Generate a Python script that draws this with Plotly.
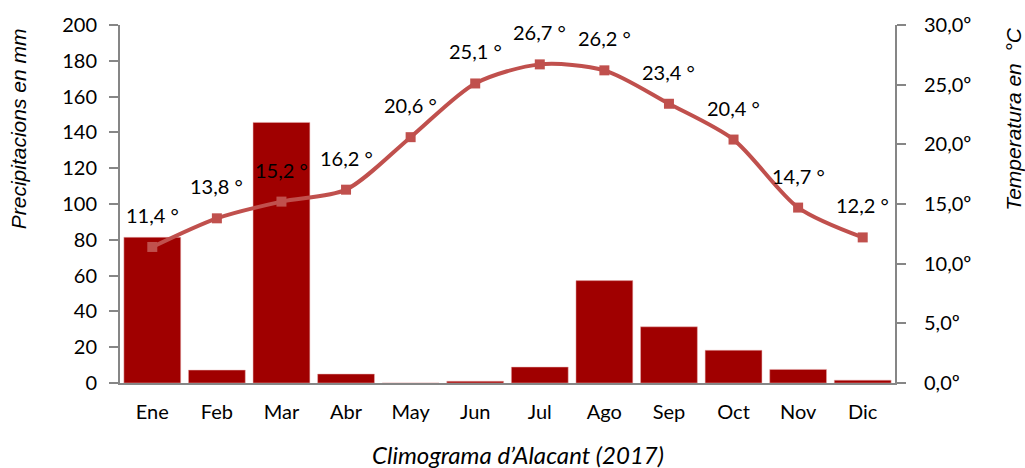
import plotly.graph_objects as go

months = ["Ene", "Feb", "Mar", "Abr", "May", "Jun", "Jul", "Ago", "Sep", "Oct", "Nov", "Dic"]
precip = [81.4, 7.2, 145.6, 5.0, 0.0, 1.0, 8.9, 57.2, 31.4, 18.3, 7.6, 1.6]
temp = [11.4, 13.8, 15.2, 16.2, 20.6, 25.1, 26.7, 26.2, 23.4, 20.4, 14.7, 12.2]
left_ticks = [0, 20, 40, 60, 80, 100, 120, 140, 160, 180, 200]
right_ticks = [0, 5, 10, 15, 20, 25, 30]
right_labels = ["0,0º", "5,0º", "10,0º", "15,0º", "20,0º", "25,0º", "30,0º"]
temp_labels = [f"{t:.1f}".replace(".", ",") + " °" for t in temp]

FONT = "Lato, Open Sans, sans-serif"
TFONT = "Liberation Sans, Arial, sans-serif"
AX = "#868686"

fig = go.Figure()
fig.add_trace(go.Bar(x=months, y=precip, marker=dict(color="#A00000", line=dict(color="#E8B0B0", width=0.5)),
                     yaxis="y", name="Precipitacions"))
fig.add_trace(go.Scatter(x=months, y=temp, yaxis="y2", mode="lines+markers",
                         line=dict(color="#C0504D", width=4, shape="spline", smoothing=0.8),
                         marker=dict(symbol="square", size=10, color="#C0504D"),
                         name="Temperatura"))

annotations = [
    dict(x=m, y=t, xref="x", yref="y2", text=lab, showarrow=False, yshift=32,
         font=dict(size=20, color="#000000"), xanchor="center", yanchor="middle")
    for m, t, lab in zip(months, temp, temp_labels)
]
annotations += [
    dict(text="<i>Precipitacions en mm</i>", xref="paper", yref="paper", x=-0.131, y=0.71,
         textangle=-90, showarrow=False, font=dict(size=21, family=TFONT), xanchor="center", yanchor="middle"),
    dict(text="<i>Temperatura en\u00a0 °C</i>", xref="paper", yref="paper", x=1.153, y=0.737,
         textangle=-90, showarrow=False, font=dict(size=21, family=TFONT), xanchor="center", yanchor="middle"),
    dict(text="<i>Climograma d’Alacant (2017)</i>", xref="paper", yref="paper", x=0.513, y=-0.199,
         showarrow=False, font=dict(size=24), xanchor="center", yanchor="middle"),
]

fig.update_layout(
    width=1025, height=468,
    margin=dict(l=120, r=130, t=22, b=85),
    paper_bgcolor="white", plot_bgcolor="white",
    showlegend=False, bargap=0.12,
    font=dict(family=FONT, size=20, color="#000000"),
    xaxis=dict(range=[-0.5, 11.5], showline=True, linecolor=AX, linewidth=2, ticks="", showgrid=False,
               tickfont=dict(size=20), ticklabelstandoff=10),
    yaxis=dict(range=[0, 200], tickvals=left_ticks, showline=True, linecolor=AX, linewidth=2,
               ticks="outside", ticklen=9, tickcolor=AX, tickwidth=2, showgrid=False, zeroline=False,
               tickfont=dict(size=20), ticklabelstandoff=8),
    yaxis2=dict(range=[0, 30], tickvals=right_ticks, ticktext=right_labels, overlaying="y", side="right",
                showline=True, linecolor=AX, linewidth=2, ticks="outside", ticklen=9, tickcolor=AX, tickwidth=2,
                showgrid=False, zeroline=False, tickfont=dict(size=20), ticklabelstandoff=14),
    annotations=annotations,
)
fig.write_html("out.html", config={"displayModeBar": False},
               post_script="document.body.style.margin='0';")
